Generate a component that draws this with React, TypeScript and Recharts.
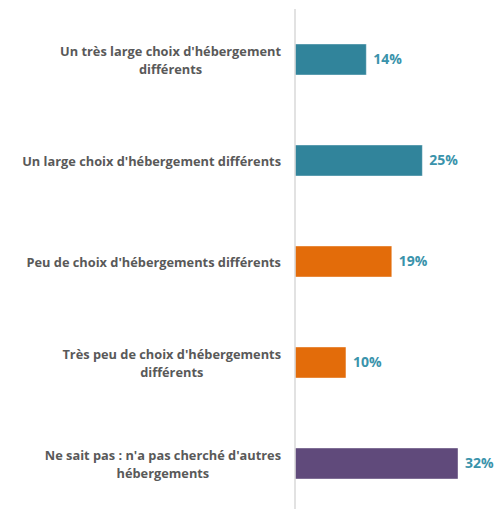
import React from "react";
import { Bar, BarChart, Cell, LabelList, XAxis, YAxis } from "recharts";

// valeurs (en %)
const categories = [
  "Un très large choix d'hébergement|différents",
  "Un large choix d'hébergement différents",
  "Peu de choix d'hébergements différents",
  "Très peu de choix d'hébergements|différents",
  "Ne sait pas : n'a pas cherché d'autres|hébergements",
];
const values = [14, 25, 19, 10, 32];
const barColors = ["#31849b", "#31849b", "#e36c0a", "#e36c0a", "#604a7b"];

const data = categories.map((name, i) => ({ name, value: values[i] }));

const FONT = "'Open Sans', sans-serif";
const TICK_SIZE = 12.8;
const COLOR_TEXT = "#595959";
const COLOR_LABEL = "#3a93ab";
const COLOR_AXIS = "#d9d9d9";

let ctx: CanvasRenderingContext2D | null = null;
function measure(text: string) {
  if (!ctx) ctx = document.createElement("canvas").getContext("2d");
  if (!ctx) return text.length * 6;
  ctx.font = `bold ${TICK_SIZE}px ${FONT}`;
  return ctx.measureText(text).width;
}

// lignes centrées entre elles, bloc aligné à droite (comme Excel)
function CategoryTick(props: any) {
  const { x, y, payload } = props;
  const lines: string[] = String(payload.value).split("|");
  const right = x - 6;
  const widths = lines.map(measure);
  const maxW = Math.max(...widths);
  const lh = 18;
  const y0 = y - ((lines.length - 1) * lh) / 2;
  return (
    <text
      textAnchor="end"
      fill={COLOR_TEXT}
      fontFamily={FONT}
      fontWeight="bold"
      fontSize={TICK_SIZE}
      dominantBaseline="central"
    >
      {lines.map((l, i) => (
        <tspan key={i} x={right - (maxW - widths[i]) / 2} y={y0 + i * lh}>
          {l}
        </tspan>
      ))}
    </text>
  );
}

export default function App() {
  return (
    <div style={{ position: "absolute", left: 0, top: 0, width: 494, height: 509, background: "#fff" }}>
      <BarChart
        width={494}
        height={514}
        data={data}
        layout="vertical"
        margin={{ top: 9, right: 36, bottom: 0, left: 0 }}
        barCategoryGap={35}
      >
        <XAxis type="number" domain={[0, 32]} hide />
        <YAxis
          type="category"
          dataKey="name"
          width={295}
          axisLine={{ stroke: COLOR_AXIS, strokeWidth: 1.5 }}
          tickLine={false}
          tick={<CategoryTick />}
          interval={0}
        />
        <Bar dataKey="value" isAnimationActive={false} stroke="#ffffff" strokeOpacity={0.4}>
          {data.map((d, i) => (
            <Cell key={d.name} fill={barColors[i]} />
          ))}
          <LabelList
            dataKey="value"
            position="right"
            offset={7}
            formatter={(v: any) => `${v}%`}
            fill={COLOR_LABEL}
            fontFamily={FONT}
            fontWeight="bold"
            fontSize={14}
          />
        </Bar>
      </BarChart>
    </div>
  );
}
